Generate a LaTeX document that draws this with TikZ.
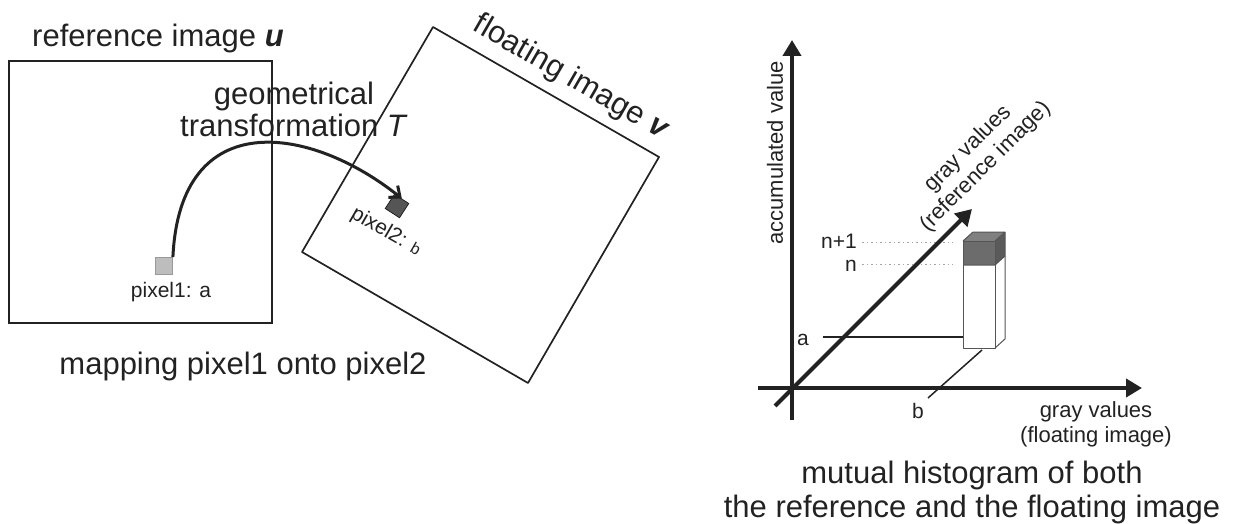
\documentclass[tikz,border=0pt]{standalone}
\usepackage{fontspec}
\setmainfont{Liberation Sans}
\usetikzlibrary{arrows.meta}
\definecolor{ink}{HTML}{222222}
\definecolor{lightpix}{HTML}{BDBDBD}
\definecolor{darkpix}{HTML}{555555}
\definecolor{barfront}{HTML}{6C6C6C}
\definecolor{bartop}{HTML}{808080}
\definecolor{barside}{HTML}{5A5A5A}
\begin{document}
\begin{tikzpicture}[x=1pt,y=-1pt,
  every node/.style={text=ink, inner sep=0pt},
  big/.style={font=\fontsize{31}{34}\selectfont},
  med/.style={font=\fontsize{22}{25}\selectfont, align=center},
  small/.style={font=\fontsize{21}{24}\selectfont},
  axisline/.style={line width=4pt, draw=ink, -{Triangle[length=16pt,width=18pt]}},
  pixbox/.style={draw, minimum size=17pt, line width=0.8pt},
  guide/.style={draw=gray!70, line width=1pt, dash pattern=on 1.5pt off 3pt},
  barline/.style={draw=darkpix, line width=1pt, line join=round}
]
\useasboundingbox (0,0) rectangle (1234,524);

% ---------- left part ----------
\node[big, anchor=base west] (reftitle) at (32,47) {reference image \textbf{\textit{u}}};
\draw[ink, line width=2.2pt] (9,61) rectangle (272,323);

\coordinate (ft) at (433,27);
\coordinate (fr) at (659,157);
\coordinate (fb) at (528,383);
\coordinate (fl) at (302,252);
\draw[ink, line width=1.7pt, line join=round] (ft) -- (fr) -- (fb) -- (fl) -- cycle;
\node[big, anchor=base, rotate=-30] (floattitle) at (567,85) {floating image \textbf{\textit{v}}};

\node[big, anchor=base] (geo1) at (294,105) {geometrical};
\node[big, anchor=base] (geo2) at (294,137) {transformation \textit{T}};

\node[pixbox, fill=lightpix, draw=gray!80] (p1) at (164,266) {};
\node[small, anchor=base] (p1lab) at (171,297) {pixel1: a};
\node[pixbox, fill=darkpix, draw=ink, rotate=-33] (p2) at (397,206) {};
\node[small, rotate=-30] (p2lab) at (386,232) {pixel2: {\fontsize{16}{18}\selectfont b}};

\draw[ink, line width=3pt, -{Straight Barb[length=9pt,width=15pt,line width=3pt]}]
  (p1.north east) .. controls (180,105) and (310,125) .. (p2.north);

\node[big, anchor=base] (maptext) at (243,374) {mapping pixel1 onto pixel2};

% ---------- right part ----------
\coordinate (yb) at (792,420);
\coordinate (yt) at (792,40);
\coordinate (xl) at (758,388);
\coordinate (xr) at (1142,388);
\coordinate (db) at (775,406);
\coordinate (dt) at (972,209);

\draw[axisline] (yb) -- (yt);
\draw[axisline] (xl) -- (xr);

% guides
\node[small, anchor=base east] (lnp) at (857,248) {n+1};
\node[small, anchor=base east] (ln) at (857,271) {n};
\node[small, anchor=base east] (la) at (809,345) {a};
\node[small, anchor=base] (lb) at (918,418) {b};

\draw[guide] (862,242) -- (953,242);
\draw[guide] (862,264) -- (953,264);
\draw[ink, line width=2.5pt] (823,337) -- (963,337);
\draw[ink, line width=1.5pt] (928,398) -- (982,350);

\draw[axisline] (db) -- (dt);

% bar
\coordinate (ftl) at (963,241);
\coordinate (ftr) at (995,241);
\coordinate (fbr) at (995,348);
\coordinate (fbl) at (963,348);
\coordinate (btl) at (973,232);
\coordinate (btr) at (1005,232);
\coordinate (bbr) at (1005,339);
\fill[white] (ftl) -- (ftr) -- (fbr) -- (fbl) -- cycle;
\fill[white] (ftr) -- (btr) -- (bbr) -- (fbr) -- cycle;
\fill[barfront] (ftl) -- (ftr) -- (995,265) -- (963,265) -- cycle;
\fill[barside] (ftr) -- (btr) -- (1005,256) -- (995,265) -- cycle;
\fill[bartop] (ftl) -- (btl) -- (btr) -- (ftr) -- cycle;
\draw[barline] (ftl) -- (ftr) -- (fbr) -- (fbl) -- cycle;
\draw[barline] (ftl) -- (btl) -- (btr) -- (ftr);
\draw[barline] (btr) -- (bbr) -- (fbr);
\draw[barline] (963,265) -- (995,265) -- (1005,256);

\node[med, rotate=90] (accu) at (775,153) {accumulated value};
\node[med, rotate=45] (grayref) at (977,158) {gray values\\(reference image)};
\node[med, anchor=base] (grayfl1) at (1096,417) {gray values};
\node[med, anchor=base] (grayfl2) at (1096,442) {(floating image)};

\node[big, anchor=base] (cap1) at (972,483) {mutual histogram of both};
\node[big, anchor=base] (cap2) at (972,517) {the reference and the floating image};
\end{tikzpicture}
\end{document}
